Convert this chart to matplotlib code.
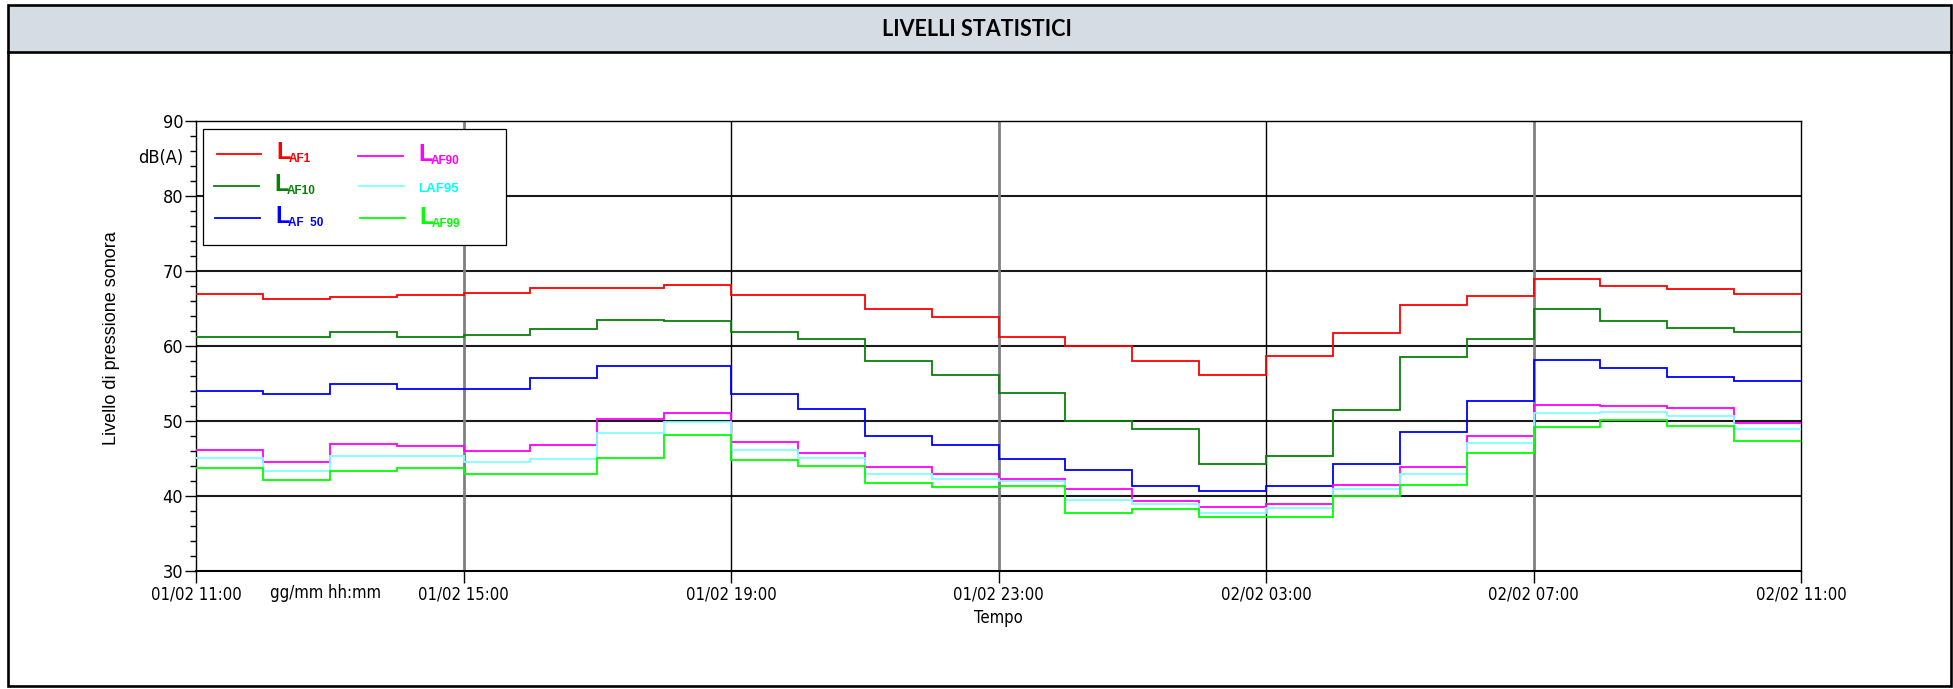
import os
import matplotlib
matplotlib.use('Agg')
import matplotlib.pyplot as plt
from matplotlib.patches import Rectangle
from matplotlib.lines import Line2D
from matplotlib.ticker import MultipleLocator
from matplotlib import font_manager as fm

# ---------------- data ----------------
hour_edges = list(range(25))          # hours since 01/02 11:00
tick_hours = [0, 4, 8, 12, 16, 20, 24]
tick_labels = ['01/02 11:00', '01/02 15:00', '01/02 19:00', '01/02 23:00',
               '02/02 03:00', '02/02 07:00', '02/02 11:00']

laf1 = [67.0, 66.3, 66.5, 66.8, 67.1, 67.8, 67.8, 68.1,
        66.8, 66.8, 64.9, 63.9, 61.2, 60.0, 58.0, 56.1,
        58.7, 61.7, 65.4, 66.7, 69.0, 68.0, 67.6, 66.9]
laf10 = [61.2, 61.2, 61.9, 61.2, 61.5, 62.3, 63.5, 63.4,
         61.9, 60.9, 58.0, 56.2, 53.8, 50.0, 48.9, 44.3,
         45.4, 51.5, 58.6, 60.9, 64.9, 63.4, 62.4, 61.9]
laf50 = [54.0, 53.6, 55.0, 54.3, 54.3, 55.7, 57.4, 57.3,
         53.6, 51.6, 48.0, 46.8, 45.0, 43.5, 41.3, 40.7,
         41.3, 44.3, 48.6, 52.7, 58.2, 57.1, 55.9, 55.3]
laf90 = [46.2, 44.5, 47.0, 46.7, 46.0, 46.8, 50.3, 51.1,
         47.2, 45.8, 43.9, 42.9, 42.3, 41.0, 39.3, 38.5,
         39.0, 41.5, 43.9, 48.0, 52.1, 52.0, 51.7, 49.8]
laf95 = [45.1, 43.3, 45.3, 45.3, 44.6, 44.9, 48.4, 49.9,
         46.2, 45.1, 43.0, 42.3, 42.0, 39.5, 39.0, 37.8,
         38.4, 40.9, 43.0, 47.1, 51.1, 51.2, 50.7, 48.9]
laf99 = [43.7, 42.1, 43.4, 43.7, 42.9, 43.0, 45.1, 48.2,
         44.8, 44.0, 41.7, 41.2, 41.3, 37.7, 38.3, 37.2,
         37.2, 40.0, 41.5, 45.8, 49.2, 50.1, 49.4, 47.3]

series = [laf1, laf10, laf50, laf90, laf95, laf99]
colors = ['#FF0000', '#0A800A', '#0000FF', '#FF00FF', '#80FFFF', '#00FF00']

# ---------------- fonts ----------------
def find_font(candidates):
    for f in fm.fontManager.ttflist:
        base = os.path.basename(f.fname)
        if base in candidates:
            return f.fname
    return None

narrow_file = find_font(['LiberationSansNarrow-Regular.ttf', 'DejaVuSansCondensed.ttf',
                         'RobotoCondensed-Regular.ttf'])

def narrow(size):
    if narrow_file:
        return fm.FontProperties(fname=narrow_file, size=size)
    return fm.FontProperties(family=['Liberation Sans', 'DejaVu Sans'], size=size * 0.9)

SANS = ['Liberation Sans', 'DejaVu Sans']

# ---------------- figure ----------------
W, H = 1953, 689
fig = plt.figure(figsize=(W / 100, H / 100), dpi=100)

def fx(x):
    return x / W

def fy(y):
    return 1 - y / H

# title band and outer frame
fig.patches.append(Rectangle((fx(8), fy(52)), fx(1951) - fx(8), fy(5) - fy(52),
                             transform=fig.transFigure, facecolor='#D5DCE4',
                             edgecolor='none', zorder=0))
fig.patches.append(Rectangle((fx(8), fy(686)), fx(1951) - fx(8), fy(5) - fy(686),
                             transform=fig.transFigure, facecolor='none',
                             edgecolor='black', linewidth=1.9, zorder=5))
fig.lines.append(Line2D([fx(8), fx(1951)], [fy(52), fy(52)], transform=fig.transFigure,
                        color='black', linewidth=1.9, zorder=5))
fig.text(fx(977), fy(29), 'LIVELLI STATISTICI', ha='center', va='center',
         fontsize=15.5, fontweight='bold', family=['Lato', 'Open Sans', 'DejaVu Sans'])

# axes
L, R, T, B = 196, 1801, 121, 571
ax = fig.add_axes([fx(L), fy(B), fx(R) - fx(L), fy(T) - fy(B)])
ax.set_xlim(0, 24)
ax.set_ylim(30, 90)

for yv in [40, 50, 60, 70, 80]:
    ax.axhline(yv, color='#1a1a1a', linewidth=1.5, zorder=1)
for xv, c, lw in [(4, '#808080', 2.0), (8, '#000000', 1.0), (12, '#808080', 2.0),
                  (16, '#000000', 1.0), (20, '#808080', 2.0)]:
    ax.axvline(xv, color=c, linewidth=lw, zorder=1)

for vals, c in zip(series, colors):
    ax.stairs(vals, hour_edges, color=c, linewidth=1.3, zorder=3, baseline=None)

for s in ax.spines.values():
    s.set_color('black')
    s.set_linewidth(1.0)
ax.spines['bottom'].set_linewidth(1.5)

ax.set_xticks(tick_hours)
ax.set_xticklabels(tick_labels, fontproperties=narrow(12))
ax.set_yticks(range(30, 91, 10))
ax.set_yticklabels([str(v) for v in range(30, 91, 10)], fontproperties=narrow(13))
ax.yaxis.set_minor_locator(MultipleLocator(2))
ax.tick_params(axis='x', which='major', direction='out', length=8.5, width=1.0, pad=1.8)
ax.tick_params(axis='y', which='major', direction='out', length=8, width=1.0, pad=1.2)
ax.tick_params(axis='y', which='minor', direction='out', length=4.3, width=1.0)

fig.text(fx(112), fy(338), 'Livello di pressione sonora', rotation=90, ha='center',
         va='center', family=SANS, fontsize=13)
fig.text(fx(998), fy(618), 'Tempo', ha='center', va='center', fontproperties=narrow(12))
fig.text(fx(325), fy(593), 'gg/mm hh:mm', ha='center', va='center', fontproperties=narrow(12))
fig.text(fx(183), fy(158), 'dB(A)', ha='right', va='center', fontproperties=narrow(13))

# legend box (manual, to reproduce the L + subscript style)
fig.patches.append(Rectangle((fx(203), fy(245)), fx(506) - fx(203), fy(129) - fy(245),
                             transform=fig.transFigure, facecolor='white',
                             edgecolor='black', linewidth=0.9, zorder=4))
entries = [
    # (line x0, x1, line y, L x, L baseline, subscript, sub x, sub baseline, text colour, big L)
    (217, 261, 154, 276, 159, 'AF1', 289, 162, '#FF0000', True),
    (214, 259, 186, 274, 191, 'AF10', 287, 194, '#0A800A', True),
    (215, 260, 218, 275, 223, 'AF  50', 288, 226, '#0000FF', True),
    (358, 403, 156, 418, 161, 'AF90', 431, 164, '#FF00FF', True),
    (359, 404, 186, 418, 192, 'LAF95', 418, 192, '#00FFFF', False),
    (360, 405, 218, 419, 224, 'AF99', 432, 227, '#00FF00', True),
]
line_cols = ['#FF0000', '#0A800A', '#0000FF', '#FF00FF', '#80FFFF', '#00FF00']
for (x0, x1, ly, tx, by, sub, sx, sb, tc, big), lc in zip(entries, line_cols):
    fig.lines.append(Line2D([fx(x0), fx(x1)], [fy(ly), fy(ly)], transform=fig.transFigure,
                            color=lc, linewidth=1.3, zorder=6))
    if big:
        fig.text(fx(tx), fy(by), 'L', ha='left', va='baseline', color=tc,
                 fontsize=17, fontweight='bold', family=SANS, zorder=7)
        fig.text(fx(sx), fy(sb), sub, ha='left', va='baseline', color=tc,
                 fontsize=8.5, fontweight='bold', family=SANS, zorder=7)
    else:
        fig.text(fx(sx), fy(sb), sub, ha='left', va='baseline', color=tc,
                 fontsize=9.5, fontweight='bold', family=SANS, zorder=7)

fig.savefig('out.png', dpi=100)
